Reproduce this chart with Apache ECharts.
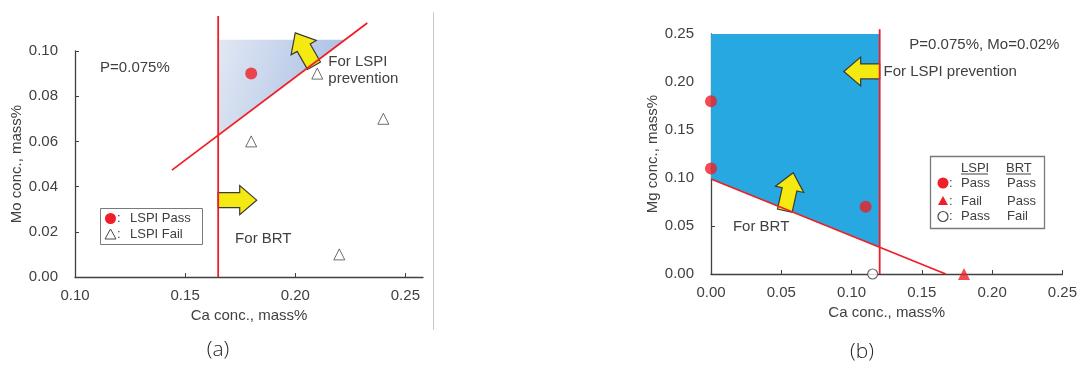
<!DOCTYPE html>
<html>
<head>
<meta charset="utf-8">
<script src="https://cdn.jsdelivr.net/npm/echarts@6/dist/echarts.min.js"></script>
<style>
  html, body { margin: 0; padding: 0; background: #ffffff; }
  #chart { width: 1080px; height: 365px; }
</style>
</head>
<body>
<div id="chart"></div>
<script>
// ---------- Panel (a): Mo vs Ca, P = 0.075% ----------
const caTicksA = [0.10, 0.15, 0.20, 0.25];
const moTicksA = [0.00, 0.02, 0.04, 0.06, 0.08, 0.10];
const lspiPassA = [[0.18, 0.09]];
const lspiFailA = [[0.21, 0.09], [0.18, 0.06], [0.24, 0.07], [0.22, 0.01]];
const brtLimitA = [[0.165, 0], [0.165, 0.1155]];
const lspiLimitA = [[0.144, 0.0473], [0.2327, 0.1124]];
const okRegionA = [[0.165, 0.0627], [0.165, 0.105], [0.2225, 0.105]];
const arrowsA = [
  [[0.2085, 0.0935], [0.2000, 0.1080]],
  [[0.1650, 0.0340], [0.1825, 0.0340]]
];
const notesA = [
  [0.1114, 0.0925, 'P=0.075%'],
  [0.2150, 0.0914, 'For LSPI\nprevention'],
  [0.1727, 0.0168, 'For BRT']
];

// ---------- Panel (b): Mg vs Ca, P = 0.075%, Mo = 0.02% ----------
const caTicksB = [0.00, 0.05, 0.10, 0.15, 0.20, 0.25];
const mgTicksB = [0.00, 0.05, 0.10, 0.15, 0.20, 0.25];
const passPassB = [[0.00, 0.18], [0.00, 0.11], [0.11, 0.07]];
const failPassB = [[0.18, 0.00]];
const passFailB = [[0.115, 0.00]];
const lspiLimitB = [[0.12, 0], [0.12, 0.255]];
const brtLimitB = [[0, 0.099], [0.167, 0]];
const okRegionB = [[0, 0.25], [0.12, 0.25], [0.12, 0.0279], [0, 0.099]];
const arrowsB = [
  [[0.1200, 0.211], [0.0945, 0.211]],
  [[0.0525, 0.066], [0.0585, 0.1055]]
];
const notesB = [
  [0.1411, 0.239, 'P=0.075%, Mo=0.02%'],
  [0.1227, 0.2108, 'For LSPI prevention'],
  [0.0156, 0.049, 'For BRT']
];

const FONT = 'Liberation Sans, Arial, Helvetica, sans-serif';
const INK = '#404040';
const RED = '#ef1f27';
const YELLOW = '#f4ea12';

const chart = echarts.init(document.getElementById('chart'), null, { renderer: 'canvas' });

function fmt2(v) { return (Math.round(v * 100) / 100).toFixed(2); }

function axisCommon() {
  return {
    axisLine: { show: true, onZero: false, lineStyle: { color: INK, width: 1.3 } },
    splitLine: { show: false },
    nameLocation: 'middle',
    nameTextStyle: { color: INK, fontSize: 15, fontFamily: FONT }
  };
}

function xAxisDef(idx, min, max, ticks, name, gap) {
  return Object.assign(axisCommon(), {
    type: 'value', gridIndex: idx, min: min, max: max, interval: 0.05,
    name: name, nameGap: gap,
    axisLabel: { color: INK, fontSize: 15, fontFamily: FONT, margin: 11,
      customValues: ticks, formatter: fmt2 },
    axisTick: { show: true, inside: true, length: 4, customValues: ticks,
      lineStyle: { color: INK, width: 1 } }
  });
}

function yAxisDef(idx, max, interval, ticks, name) {
  return Object.assign(axisCommon(), {
    type: 'value', gridIndex: idx, min: 0, max: max, interval: interval,
    name: name, nameGap: 51,
    axisLabel: { color: INK, fontSize: 15, fontFamily: FONT, margin: 17,
      customValues: ticks, formatter: fmt2 },
    axisTick: { show: true, inside: true, length: 4, customValues: ticks,
      lineStyle: { color: INK, width: 1 } }
  });
}

// polygon filled region drawn in data space
function regionSeries(idx, pts, fill) {
  return {
    type: 'custom', xAxisIndex: idx, yAxisIndex: idx, clip: false, z: 1, silent: true,
    data: [pts[0]],
    renderItem: function (params, api) {
      return {
        type: 'polygon',
        shape: { points: pts.map(p => api.coord(p)) },
        style: { fill: fill }
      };
    }
  };
}

// block arrows from a base point to a tip point
function arrowSeries(idx, arrows) {
  return {
    type: 'custom', xAxisIndex: idx, yAxisIndex: idx, clip: false, z: 3, silent: true,
    data: arrows.map(a => a[0]),
    renderItem: function (params, api) {
      const a = arrows[params.dataIndex];
      const b = api.coord(a[0]);
      const t = api.coord(a[1]);
      const dx = t[0] - b[0], dy = t[1] - b[1];
      const L = Math.sqrt(dx * dx + dy * dy);
      const ux = dx / L, uy = dy / L;
      const nx = -uy, ny = ux;
      const h = Math.min(17, L * 0.47), w1 = 7.5, w2 = 14.5;
      const m = [b[0] + ux * (L - h), b[1] + uy * (L - h)];
      const pts = [
        [b[0] + nx * w1, b[1] + ny * w1],
        [m[0] + nx * w1, m[1] + ny * w1],
        [m[0] + nx * w2, m[1] + ny * w2],
        t,
        [m[0] - nx * w2, m[1] - ny * w2],
        [m[0] - nx * w1, m[1] - ny * w1],
        [b[0] - nx * w1, b[1] - ny * w1]
      ];
      return {
        type: 'polygon',
        shape: { points: pts },
        style: { fill: YELLOW, stroke: '#3a3a3a', lineWidth: 1.2, lineJoin: 'miter' }
      };
    }
  };
}

// text notes anchored at data positions
function noteSeries(idx, notes) {
  return {
    type: 'custom', xAxisIndex: idx, yAxisIndex: idx, clip: false, z: 6, silent: true,
    data: notes.map(n => [n[0], n[1]]),
    renderItem: function (params, api) {
      const n = notes[params.dataIndex];
      const p = api.coord([n[0], n[1]]);
      return {
        type: 'text', x: p[0], y: p[1],
        style: {
          text: n[2], fill: INK, font: '15px ' + FONT,
          align: 'left', verticalAlign: 'middle', lineHeight: 17
        }
      };
    }
  };
}

function lineSeries(idx, pts) {
  return {
    type: 'line', xAxisIndex: idx, yAxisIndex: idx, data: pts, clip: false, z: 4,
    symbol: 'none', silent: true, animation: false,
    lineStyle: { color: RED, width: 1.8 }
  };
}

function scatterSeries(idx, pts, symbol, size, style) {
  return {
    type: 'scatter', xAxisIndex: idx, yAxisIndex: idx, data: pts, clip: false, z: 5,
    symbol: symbol, symbolSize: size, silent: true, itemStyle: style
  };
}

const option = {
  animation: false,
  backgroundColor: '#ffffff',
  textStyle: { fontFamily: FONT },
  grid: [
    { left: 75, top: 51, width: 348, height: 226 },
    { left: 711, top: 34, width: 352, height: 240 }
  ],
  xAxis: [
    xAxisDef(0, 0.10, 0.258, caTicksA, 'Ca conc., mass%', 30),
    xAxisDef(1, 0, 0.25, caTicksB, 'Ca conc., mass%', 27)
  ],
  yAxis: [
    yAxisDef(0, 0.10, 0.02, moTicksA, 'Mo conc., mass%'),
    yAxisDef(1, 0.25, 0.05, mgTicksB, 'Mg conc., mass%')
  ],
  series: [
    // panel (a)
    regionSeries(0, okRegionA, new echarts.graphic.LinearGradient(0, 0, 1, 0.4, [
      { offset: 0, color: '#e2e8f4' },
      { offset: 1, color: '#a9bfe3' }
    ])),
    arrowSeries(0, arrowsA),
    lineSeries(0, brtLimitA),
    lineSeries(0, lspiLimitA),
    scatterSeries(0, lspiPassA, 'circle', 12, { color: RED }),
    scatterSeries(0, lspiFailA, 'triangle', 11,
      { color: 'rgba(255,255,255,0)', borderColor: '#4a4a4a', borderWidth: 1 }),
    noteSeries(0, notesA),
    // panel (b)
    regionSeries(1, okRegionB, '#27a8e0'),
    arrowSeries(1, arrowsB),
    lineSeries(1, lspiLimitB),
    lineSeries(1, brtLimitB),
    scatterSeries(1, passPassB, 'circle', 12, { color: RED }),
    scatterSeries(1, failPassB, 'triangle', 12, { color: RED }),
    scatterSeries(1, passFailB, 'circle', 10,
      { color: '#ffffff', borderColor: '#4a4a4a', borderWidth: 1.2 }),
    noteSeries(1, notesB)
  ],
  graphic: [
    // divider between the two panels
    { type: 'line', shape: { x1: 433.5, y1: 12, x2: 433.5, y2: 330 },
      style: { stroke: '#c8c8c8', lineWidth: 1 } },
    // panel captions
    { type: 'text', x: 218, y: 350,
      style: { text: '(a)', fill: '#262626', font: '300 21px "Open Sans", "DejaVu Sans", sans-serif',
        align: 'center', verticalAlign: 'middle' } },
    { type: 'text', x: 862, y: 352,
      style: { text: '(b)', fill: '#262626', font: '300 21px "Open Sans", "DejaVu Sans", sans-serif',
        align: 'center', verticalAlign: 'middle' } },
    // key for panel (a)
    { type: 'group', x: 100, y: 208, children: [
      { type: 'rect', shape: { x: 0.5, y: 0.5, width: 102, height: 36 },
        style: { fill: '#ffffff', stroke: '#7a7a7a', lineWidth: 1 } },
      { type: 'circle', shape: { cx: 10.5, cy: 10.5, r: 5.5 }, style: { fill: RED } },
      { type: 'text', x: 17, y: 10.5, style: { text: ':', fill: INK, font: '13px ' + FONT, verticalAlign: 'middle' } },
      { type: 'text', x: 30, y: 10.5, style: { text: 'LSPI Pass', fill: INK, font: '13px ' + FONT, verticalAlign: 'middle' } },
      { type: 'polygon', shape: { points: [[10.5, 21], [16, 31], [5, 31]] },
        style: { fill: 'none', stroke: '#4a4a4a', lineWidth: 1 } },
      { type: 'text', x: 17, y: 26.5, style: { text: ':', fill: INK, font: '13px ' + FONT, verticalAlign: 'middle' } },
      { type: 'text', x: 30, y: 26.5, style: { text: 'LSPI Fail', fill: INK, font: '13px ' + FONT, verticalAlign: 'middle' } }
    ] },
    // key for panel (b)
    { type: 'group', x: 930, y: 156, children: [
      { type: 'rect', shape: { x: 0.5, y: 0.5, width: 114, height: 72 },
        style: { fill: '#ffffff', stroke: '#7a7a7a', lineWidth: 1.3 } },
      { type: 'text', x: 31, y: 12, style: { text: 'LSPI', fill: INK, font: '13px ' + FONT, verticalAlign: 'middle' } },
      { type: 'text', x: 76, y: 12, style: { text: 'BRT', fill: INK, font: '13px ' + FONT, verticalAlign: 'middle' } },
      { type: 'line', shape: { x1: 31, y1: 18, x2: 58, y2: 18 }, style: { stroke: INK, lineWidth: 1 } },
      { type: 'line', shape: { x1: 76, y1: 18, x2: 101, y2: 18 }, style: { stroke: INK, lineWidth: 1 } },

      { type: 'circle', shape: { cx: 13, cy: 27, r: 5.5 }, style: { fill: RED } },
      { type: 'text', x: 19, y: 27, style: { text: ':', fill: INK, font: '13px ' + FONT, verticalAlign: 'middle' } },
      { type: 'text', x: 31, y: 27, style: { text: 'Pass', fill: INK, font: '13px ' + FONT, verticalAlign: 'middle' } },
      { type: 'text', x: 77, y: 27, style: { text: 'Pass', fill: INK, font: '13px ' + FONT, verticalAlign: 'middle' } },

      { type: 'polygon', shape: { points: [[13, 40], [18, 49], [8, 49]] }, style: { fill: RED } },
      { type: 'text', x: 19, y: 45, style: { text: ':', fill: INK, font: '13px ' + FONT, verticalAlign: 'middle' } },
      { type: 'text', x: 31, y: 45, style: { text: 'Fail', fill: INK, font: '13px ' + FONT, verticalAlign: 'middle' } },
      { type: 'text', x: 77, y: 45, style: { text: 'Pass', fill: INK, font: '13px ' + FONT, verticalAlign: 'middle' } },

      { type: 'circle', shape: { cx: 13, cy: 60.5, r: 5 }, style: { fill: '#ffffff', stroke: '#4a4a4a', lineWidth: 1.2 } },
      { type: 'text', x: 19, y: 60.5, style: { text: ':', fill: INK, font: '13px ' + FONT, verticalAlign: 'middle' } },
      { type: 'text', x: 31, y: 60.5, style: { text: 'Pass', fill: INK, font: '13px ' + FONT, verticalAlign: 'middle' } },
      { type: 'text', x: 77, y: 60.5, style: { text: 'Fail', fill: INK, font: '13px ' + FONT, verticalAlign: 'middle' } }
    ] }
  ]
};

chart.setOption(option);
</script>
</body>
</html>
